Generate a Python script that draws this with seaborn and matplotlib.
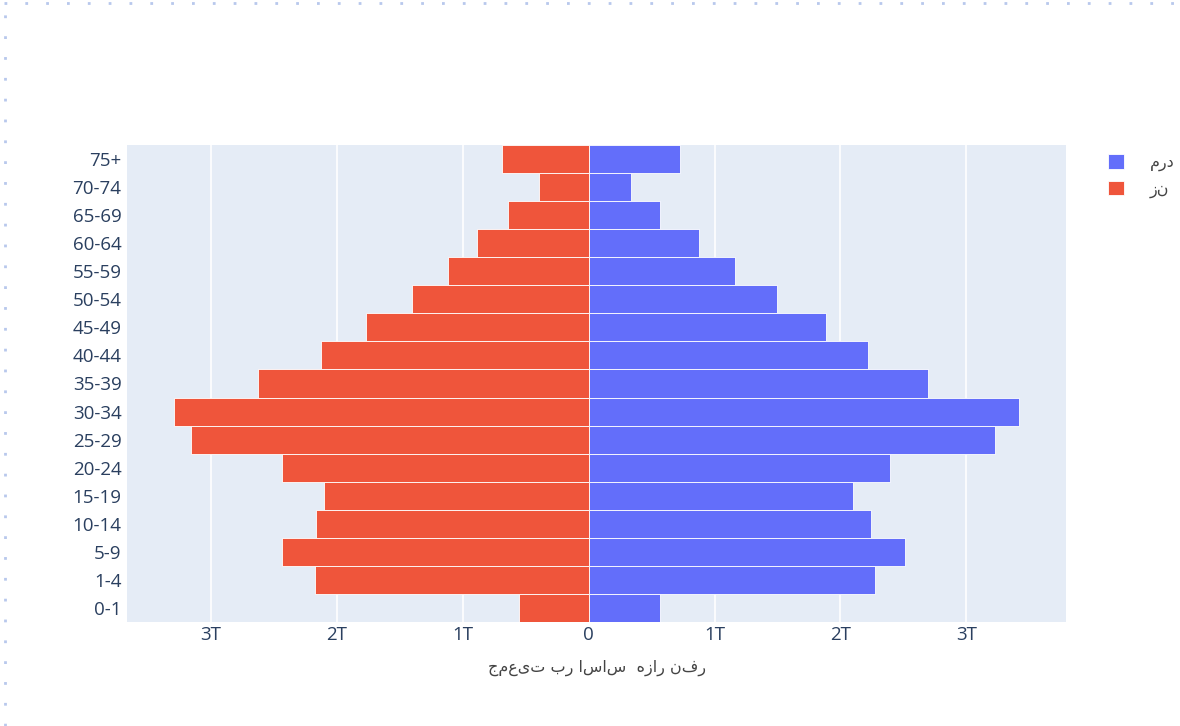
import matplotlib
matplotlib.use("Agg")
import matplotlib.pyplot as plt
import seaborn as sns
import pandas as pd
from matplotlib.patches import Patch
from matplotlib.lines import Line2D

# ---- data (values in T units as shown on the axis) ----
age_groups = ["0-1", "1-4", "5-9", "10-14", "15-19", "20-24", "25-29", "30-34",
              "35-39", "40-44", "45-49", "50-54", "55-59", "60-64", "65-69", "70-74", "75+"]
men = [0.566, 2.272, 2.516, 2.246, 2.103, 2.391, 3.225, 3.415,
       2.693, 2.222, 1.883, 1.494, 1.164, 0.878, 0.566, 0.333, 0.725]
women = [0.550, 2.172, 2.434, 2.164, 2.103, 2.432, 3.160, 3.295,
         2.628, 2.127, 1.765, 1.402, 1.118, 0.883, 0.642, 0.396, 0.689]
tick_values = [-3, -2, -1, 0, 1, 2, 3]
tick_labels = ["3T", "2T", "1T", "0", "1T", "2T", "3T"]
label_men = "مرد"
label_women = "زن"
x_title = "جمعیت بر اساس  هزار نفر"

try:
    import arabic_reshaper
    from bidi.algorithm import get_display

    def shape(s):
        return get_display(arabic_reshaper.reshape(s))
except Exception:
    def shape(s):
        return s

color_men = "#636EFA"
color_women = "#EF553B"
text_color = "#2a3f5f"

sns.set_theme(style="white")
plt.rcParams["font.family"] = ["Open Sans", "DejaVu Sans"]

fig = plt.figure(figsize=(11.8, 7.26), dpi=100)
ax = fig.add_axes([127 / 1180, 1 - 622 / 726, (1066 - 127) / 1180, (622 - 145) / 726])
ax.set_facecolor("#E5ECF6")

order = age_groups[::-1]
df_m = pd.DataFrame({"age": age_groups, "value": men})
df_w = pd.DataFrame({"age": age_groups, "value": [-v for v in women]})

sns.barplot(data=df_m, x="value", y="age", order=order, orient="h", color=color_men,
            saturation=1, width=1.0, edgecolor="#ffffff", linewidth=0.6, ax=ax, zorder=3)
sns.barplot(data=df_w, x="value", y="age", order=order, orient="h", color=color_women,
            saturation=1, width=1.0, edgecolor="#ffffff", linewidth=0.6, ax=ax, zorder=3)

ax.set_xlim(-3.665, 3.791)
ax.set_ylim(len(order) - 0.5, -0.5)
ax.set_xticks(tick_values)
ax.set_xticklabels(tick_labels)
ax.grid(axis="x", color="white", linewidth=1.2, zorder=0)
ax.set_axisbelow(True)
for s in ax.spines.values():
    s.set_visible(False)
ax.tick_params(axis="both", length=0, labelsize=13.5, labelcolor=text_color)
ax.tick_params(axis="y", pad=4)
ax.tick_params(axis="x", pad=3)
ax.set_ylabel("")
ax.set_xlabel(shape(x_title), fontsize=11.5, color="#444444", labelpad=11,
              family=["DejaVu Sans"])

handles = [Patch(facecolor=color_men, edgecolor="#ffffff", linewidth=0.6),
           Patch(facecolor=color_women, edgecolor="#ffffff", linewidth=0.6)]
leg = fig.legend(handles, [shape(label_men), shape(label_women)], loc="upper left",
                 bbox_to_anchor=(1094 / 1180, 1 - 140 / 726), frameon=False,
                 prop={"family": ["DejaVu Sans"], "size": 11.5},
                 handlelength=1.0, handleheight=1.0, handletextpad=1.6,
                 labelspacing=0.6)
for t in leg.get_texts():
    t.set_color("#444444")

# dotted screenshot border (top and left)
fig.add_artist(Line2D([0.003, 1.0], [0.996, 0.996], transform=fig.transFigure,
                      color="#b8c8ec", linestyle=(0, (1, 6.5)), linewidth=2))
fig.add_artist(Line2D([0.004, 0.004], [0.0, 0.996], transform=fig.transFigure,
                      color="#b8c8ec", linestyle=(0, (1, 6.5)), linewidth=2))

fig.savefig("out.png", dpi=100, facecolor="white")
